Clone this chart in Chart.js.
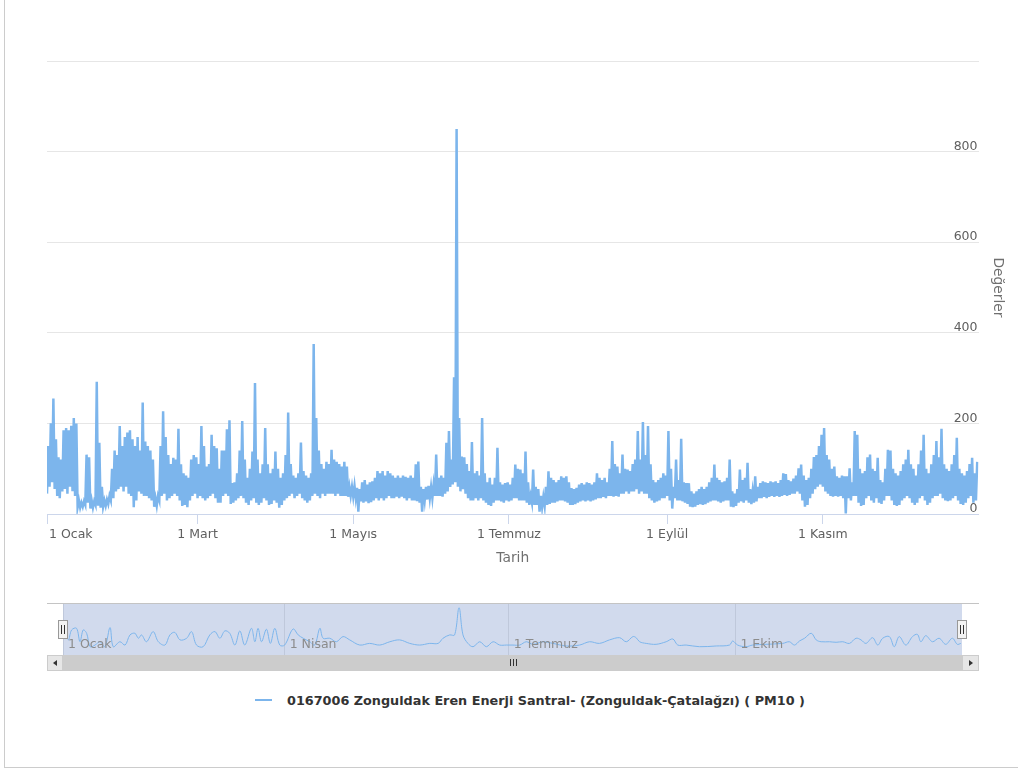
<!DOCTYPE html>
<html lang="tr">
<head>
<meta charset="utf-8">
<title>0167006 Zonguldak Eren Enerji Santral- (Zonguldak-Çatalağzı) ( PM10 )</title>
<script src="https://cdn.jsdelivr.net/npm/chart.js@4.4.1/dist/chart.umd.min.js"></script>
<style>
  html, body { margin: 0; padding: 0; background: #fff; }
  body { width: 1018px; height: 769px; position: relative; overflow: hidden; font-family: "DejaVu Sans", sans-serif; }
  .abs { position: absolute; }
  #frame { left: 4px; top: -2px; width: 1030px; height: 770px; border-left: 1px solid #ccc; border-bottom: 1px solid #ccc; box-sizing: border-box; }
  #mainChart { left: 0; top: 0; }
  #navOutline { left: 47px; top: 603px; width: 932px; height: 1px; background: #c4c4c4; }
  #navChart { left: 47px; top: 604px; }
  #sbTrack { left: 47px; top: 655px; width: 932px; height: 16px; background: #f2f2f2; }
  #sbBar { left: 63px; top: 655px; width: 899px; height: 16px; background: #cccccc; }
  .sbBtn { top: 655px; height: 16px; background: #e6e6e6; border: 1px solid #cccccc; box-sizing: border-box; }
  #sbLeft { left: 47px; width: 16px; }
  #sbRight { left: 962px; width: 17px; }
  .arrowL { left: 5px; top: 4px; width: 0; height: 0; border-top: 3px solid transparent; border-bottom: 3px solid transparent; border-right: 4px solid #333; }
  .arrowR { left: 6px; top: 4px; width: 0; height: 0; border-top: 3px solid transparent; border-bottom: 3px solid transparent; border-left: 4px solid #333; }
  .grip { top: 659px; width: 1px; height: 7px; background: #333; }
  #legendLine { left: 255px; top: 699px; width: 17px; height: 2px; background: #7cb5ec; }
  #legendText { left: 287px; top: 693px; font: bold 12.8px "DejaVu Sans", sans-serif; color: #333; line-height: 16px; white-space: nowrap; }
</style>
</head>
<body>
<div id="frame" class="abs"></div>
<canvas id="mainChart" class="abs" width="1018" height="590"></canvas>
<div id="navOutline" class="abs"></div>
<canvas id="navChart" class="abs" width="932" height="51"></canvas>
<div id="sbTrack" class="abs"></div>
<div id="sbBar" class="abs"></div>
<div class="grip abs" style="left:510px"></div>
<div class="grip abs" style="left:513px"></div>
<div class="grip abs" style="left:516px"></div>
<div id="sbLeft" class="abs sbBtn"><div class="abs arrowL"></div></div>
<div id="sbRight" class="abs sbBtn"><div class="abs arrowR"></div></div>
<div id="legendLine" class="abs"></div>
<div id="legendText" class="abs">0167006 Zonguldak Eren Enerji Santral- (Zonguldak-Çatalağzı) ( PM10 )</div>

<script>
// PM10 (µg/m³), two readings per day: the day's low, then the day's high.
const ocak = [45,150, 60,200, 70,255, 55,165, 40,125, 35,120, 50,185, 55,190, 45,185, 60,195,
  50,212, 40,200, 15,30, 14,25, 16,28, 20,131, 25,125, 12,30, 14,28, 20,292,
  18,157, 14,60, 16,30, 18,32, 22,40, 30,100, 35,140, 50,130, 55,194, 60,150, 50,170];
const subat = [60,180, 45,185, 40,165, 15,150, 30,170, 50,140, 45,246, 40,160, 40,150, 35,140,
  30,120, 16,35, 18,40, 30,150, 40,227, 45,170, 30,130, 35,110, 40,124, 45,120,
  40,188, 30,110, 18,90, 20,85, 15,80, 30,120, 40,130, 45,125];
const mart = [35,110, 40,194, 35,150, 30,105, 35,110, 40,175, 45,150, 35,145, 25,100, 25,140,
  40,140, 45,187, 40,207, 22,68, 25,70, 30,90, 35,140, 40,205, 35,120, 25,80,
  20,100, 30,138, 35,289, 25,120, 20,90, 25,110, 35,190, 30,110, 20,90, 22,100, 30,138];
const nisan = [25,100, 14,80, 20,90, 30,130, 35,224, 40,110, 45,85, 35,80, 40,90, 45,158,
  35,95, 30,85, 25,80, 30,90, 40,375, 45,212, 40,140, 35,110, 45,100, 40,115,
  45,110, 45,142, 45,120, 40,115, 45,110, 40,105, 40,115, 40,105, 38,60, 40,60];
const mayis = [38,62, 35,58, 5,55, 28,70, 25,75, 28,65, 24,70, 26,72, 30,80, 35,95,
  30,90, 35,95, 30,85, 35,95, 40,90, 35,85, 35,80, 38,85, 35,80, 38,85,
  35,82, 30,80, 35,85, 30,80, 30,110, 28,116, 25,60, 5,55, 30,60, 32,62, 35,60];
const haziran = [35,65, 40,131, 40,80, 40,85, 38,80, 45,157, 50,183, 60,120, 65,302, 70,850,
  60,212, 50,127, 55,125, 45,110, 35,95, 30,159, 30,90, 35,95, 30,85, 35,212,
  30,90, 25,70, 20,80, 18,65, 25,80, 30,146, 30,70, 28,65, 25,68, 30,70];
const temmuz = [28,65, 30,80, 35,109, 35,100, 30,98, 30,90, 30,138, 25,70, 20,40, 25,98,
  20,60, 20,55, 5,40, 15,38, 18,60, 20,94, 22,80, 25,75, 25,70, 28,75,
  30,83, 30,80, 28,83, 25,70, 20,57, 20,55, 22,58, 25,65, 28,68, 30,65, 28,70];
const agustos = [30,68, 28,65, 30,70, 32,90, 35,80, 35,75, 38,80, 35,70, 40,100, 40,161,
  38,110, 40,105, 38,90, 45,131, 45,100, 50,98, 45,95, 50,110, 50,120, 55,183,
  45,120, 50,203, 45,130, 45,194, 35,110, 30,75, 25,70, 28,75, 30,80, 35,90, 35,85];
const eylul = [40,183, 30,100, 12,60, 35,120, 30,75, 30,166, 28,70, 25,68, 22,68, 16,50,
  15,45, 16,50, 20,55, 22,60, 20,55, 22,60, 25,70, 28,80, 30,109, 30,80,
  28,75, 25,70, 28,72, 30,80, 30,120, 16,50, 15,45, 18,55, 25,98, 28,75];
const ekim = [25,80, 30,113, 25,55, 22,50, 25,83, 28,60, 35,68, 35,72, 38,70, 35,68,
  38,72, 40,70, 38,72, 40,68, 38,75, 40,90, 42,88, 40,75, 42,72, 45,78,
  45,85, 50,101, 45,109, 30,85, 16,75, 20,80, 35,100, 45,126, 55,130, 60,150, 65,175];
const kasim = [60,190, 50,130, 45,120, 40,100, 38,105, 40,83, 38,80, 40,85, 35,83, 1,83,
  35,101, 30,70, 40,183, 40,175, 25,100, 18,90, 20,95, 35,125, 40,131, 30,100,
  25,95, 35,124, 25,75, 22,70, 30,100, 40,142, 40,140, 30,100, 20,90, 18,85];
const aralik = [20,95, 30,110, 35,120, 40,142, 35,110, 25,100, 20,85, 25,110, 35,140, 40,175,
  30,100, 20,90, 25,110, 35,130, 40,161, 40,125, 45,188, 35,110, 30,100, 28,95,
  30,110, 35,130, 40,168, 30,100, 22,90, 20,85, 25,95, 35,110, 40,124, 25,90, 30,115];

// Day of year on which each month begins.
const monthStartDays = [0, 31, 59, 90, 120, 151, 181, 212, 243, 273, 304, 334];
const monthlyReadings = [ocak, subat, mart, nisan, mayis, haziran, temmuz, agustos, eylul, ekim, kasim, aralik];

// Main axis ticks.
const xTickDays = [0, 59, 120, 181, 243, 304];
const xTickLabels = ['1 Ocak', '1 Mart', '1 Mayıs', '1 Temmuz', '1 Eylül', '1 Kasım'];

// Overview strip: smoothed daily level (day of year, value).
const navDays = [0.8,2.2,3.5,5.5,6.9,8.2,9.6,11,13,15,
  17,19.1,20.4,23.1,25.2,27.2,29.2,30.6,31.9,33.9,
  36.6,38.7,41.4,43.4,45.4,47.5,50.2,52.2,54.2,56.9,
  59.6,61.7,63.7,65.7,67.7,69.8,71.8,73.8,76.5,77.9,
  79.2,80.6,82.6,84.2,86,88,90,93.4,95.5,97.5,
  100.2,102.2,104.3,105.6,108.3,111,113.7,116.4,120.5,124.5,
  128.6,132.7,136.7,140.8,144.8,148.9,152.3,154.3,157,159,
  160.8,162.4,164.4,166.5,169.2,171.9,174.6,177.3,180,182.7,
  185.4,188.1,190.8,194.9,198.9,204.3,209.7,213.8,217.8,221.9,
  226,228.7,231.4,232.7,234.1,236.8,240.8,244.9,247.6,249.6,
  253,258.4,265.2,270.6,271.9,273.9,277.3,280,285.4,292.2,
  294.9,297,299,301.1,303.8,305.8,307.8,311.2,313.9,316.6,
  319.3,322,324,326,328.7,330.8,332.8,335.5,337.5,339.5,
  342.2,344.9,346.9,348.3,350.3,353,355.7,358.4,361.1,363.1,
  364.5];
const navValues = [134,71,125,134,61,125,107,34,43,61,
  34,138,34,61,43,98,107,80,98,61,
  116,61,43,98,112,71,80,116,43,34,
  98,116,80,120,107,43,120,43,134,61,
  134,61,129,52,134,43,43,130,98,80,
  61,43,134,80,80,61,89,71,43,52,
  43,61,71,52,43,52,52,80,98,98,
  246,98,52,34,61,34,61,43,43,43,
  43,61,47,61,52,38,43,61,52,71,
  83,61,89,83,61,52,47,61,76,43,
  43,34,38,43,65,43,34,43,47,52,
  61,43,65,80,107,71,61,61,58,61,
  52,80,71,52,83,43,80,89,34,89,
  43,89,101,61,94,61,80,47,80,47,
  52];
const navTickDays = [0, 90, 181, 273];
const navTickLabels = ['1 Ocak', '1 Nisan', '1 Temmuz', '1 Ekim'];

const seriesName = '0167006 Zonguldak Eren Enerji Santral- (Zonguldak-Çatalağzı) ( PM10 )';
const lineColor = '#7cb5ec';
const labelFont = { family: '"DejaVu Sans"', size: 12.5 };
const titleFont = { family: '"DejaVu Sans"', size: 13.8 };

Chart.defaults.font.family = '"DejaVu Sans", sans-serif';

// Two readings per day, half a day apart.
const mainPoints = [];
monthlyReadings.forEach((vals, m) => {
  vals.forEach((v, i) => mainPoints.push({ x: monthStartDays[m] + i / 2, y: v }));
});

// Date labels under the main axis; the first one starts at its tick instead of centring on it.
const dateLabels = {
  id: 'dateLabels',
  afterDraw(chart) {
    const s = chart.scales.x, ctx = chart.ctx;
    ctx.save();
    ctx.font = '12.5px "DejaVu Sans"';
    ctx.fillStyle = '#606060';
    ctx.textBaseline = 'top';
    s.ticks.forEach((t, i) => {
      const px = s.getPixelForValue(t.value);
      ctx.textAlign = i === 0 ? 'left' : 'center';
      ctx.fillText(xTickLabels[i], i === 0 ? px + 2 : px, s.top + 14);
    });
    ctx.restore();
  }
};

new Chart(document.getElementById('mainChart'), {
  type: 'line',
  data: {
    datasets: [{
      label: seriesName,
      data: mainPoints,
      borderColor: lineColor,
      borderWidth: 2.5,
      pointRadius: 0,
      tension: 0,
      fill: false
    }]
  },
  options: {
    responsive: false,
    animation: false,
    devicePixelRatio: 1,
    layout: { padding: { left: 47, top: 61, right: 7.94, bottom: 17.44 } },
    plugins: { legend: { display: false }, tooltip: { enabled: false } },
    scales: {
      x: {
        type: 'linear',
        min: 0,
        max: 365,
        afterBuildTicks: (scale) => { scale.ticks = xTickDays.map(v => ({ value: v })); },
        ticks: {
          autoSkip: false,
          maxRotation: 0,
          padding: 3,
          color: 'transparent',
          font: labelFont,
          callback: (v, i) => xTickLabels[i]
        },
        grid: { drawOnChartArea: false, drawTicks: true, tickLength: 10, color: '#ccd6eb' },
        border: { display: true, color: '#ccd6eb' },
        title: { display: true, text: 'Tarih', color: '#707070', font: titleFont, padding: { top: 5, bottom: 6 } }
      },
      y: {
        position: 'right',
        min: 0,
        max: 1000,
        ticks: {
          stepSize: 200,
          mirror: true,
          padding: -1,
          labelOffset: -5,
          color: '#606060',
          font: labelFont,
          callback: (v) => (v === 1000 ? '' : String(v))
        },
        grid: { color: '#e6e6e6', drawTicks: false },
        border: { display: false },
        title: { display: true, text: 'Değerler', color: '#707070', font: titleFont, padding: { top: 4, bottom: 13 } }
      }
    }
  },
  plugins: [dateLabels]
});

// Overview strip: selection mask, quarter labels and the two range handles.
const navDecor = {
  id: 'navDecor',
  beforeDatasetsDraw(chart) {
    const { ctx, chartArea: a } = chart;
    ctx.save();
    ctx.fillStyle = 'rgba(102,133,194,0.3)';
    ctx.fillRect(a.left, a.top, a.right - a.left, a.bottom - a.top);
    ctx.restore();
  },
  afterDatasetsDraw(chart) {
    const { ctx, chartArea: a, scales: { x } } = chart;
    ctx.save();
    ctx.font = '12.5px "DejaVu Sans"';
    ctx.fillStyle = '#8c8c8c';
    ctx.textAlign = 'left';
    ctx.textBaseline = 'alphabetic';
    x.ticks.forEach((t, i) => {
      ctx.fillText(navTickLabels[i], x.getPixelForValue(t.value) + 5, a.top + 43.5);
    });
    const midY = Math.round((a.top + a.bottom) / 2);
    [a.left, a.right].forEach(hx => {
      const cx = Math.round(hx);
      ctx.fillStyle = '#f2f2f2';
      ctx.strokeStyle = '#999999';
      ctx.lineWidth = 1;
      ctx.fillRect(cx - 4.5, midY - 9.5, 9, 18);
      ctx.strokeRect(cx - 4.5, midY - 9.5, 9, 18);
      ctx.strokeStyle = '#333333';
      ctx.beginPath();
      ctx.moveTo(cx - 1.5, midY - 5); ctx.lineTo(cx - 1.5, midY + 4);
      ctx.moveTo(cx + 1.5, midY - 5); ctx.lineTo(cx + 1.5, midY + 4);
      ctx.stroke();
    });
    ctx.restore();
  }
};

new Chart(document.getElementById('navChart'), {
  type: 'line',
  data: {
    labels: navDays,
    datasets: [{
      data: navDays.map((d, i) => ({ x: d, y: navValues[i] })),
      borderColor: lineColor,
      borderWidth: 1,
      pointRadius: 0,
      tension: 0.35,
      fill: false
    }]
  },
  options: {
    responsive: false,
    animation: false,
    devicePixelRatio: 1,
    layout: { padding: { left: 16, right: 17, top: 0, bottom: 0 } },
    plugins: { legend: { display: false }, tooltip: { enabled: false } },
    scales: {
      x: {
        type: 'linear',
        min: 0,
        max: 365,
        afterBuildTicks: (scale) => { scale.ticks = navTickDays.map(v => ({ value: v })); },
        ticks: { display: false },
        grid: { drawTicks: false, color: '#e6e6e6' },
        border: { display: false }
      },
      y: { display: false, min: -11, max: 266 }
    }
  },
  plugins: [navDecor]
});
</script>
</body>
</html>
